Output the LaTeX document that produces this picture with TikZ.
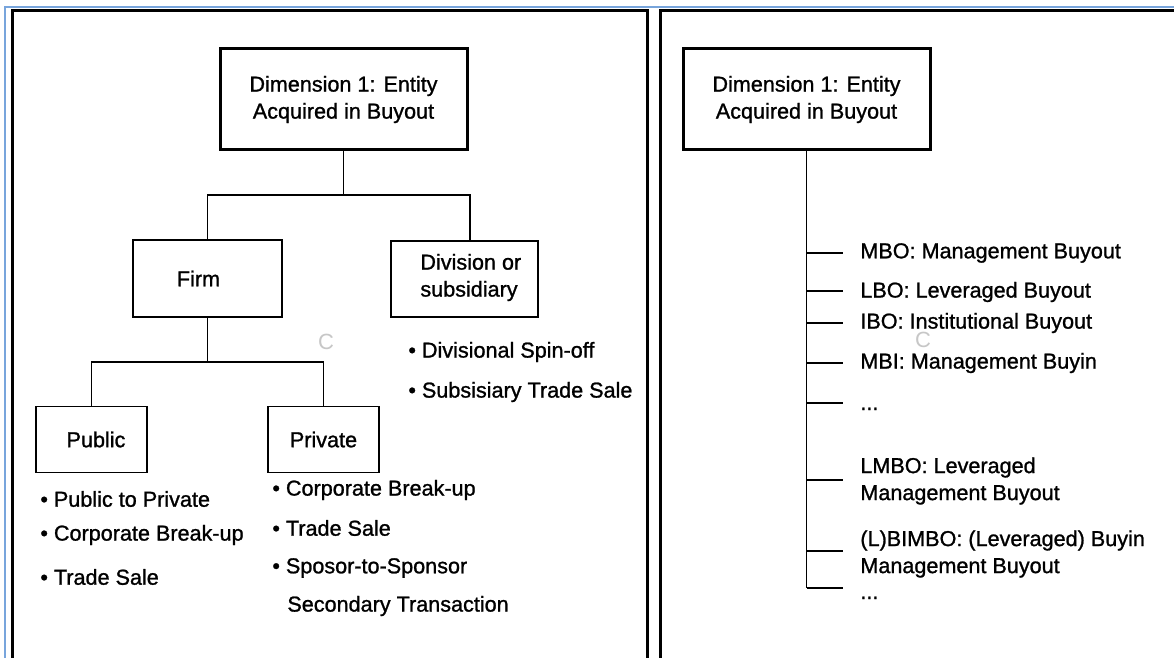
\documentclass[tikz,border=0pt]{standalone}
\usepackage{fontspec}
\setmainfont{Liberation Sans}
\definecolor{frameblue}{RGB}{120,165,220}
\begin{document}
\begin{tikzpicture}[x=0.5pt,y=-0.5pt,
  every node/.style={font=\fontsize{10.8}{13.5}\selectfont\addfontfeature{FakeBold=1.1}},
  headbox/.style={draw, line width=1.5pt, minimum width=123.5pt, minimum height=50.5pt, align=center, inner sep=0pt},
  catbox/.style={draw, line width=0.75pt, inner sep=0pt},
  conn/.style={line width=0.75pt},
  txt/.style={anchor=west, inner sep=0pt},
  wm/.style={text=black!22, font=\fontsize{11}{11}\selectfont}
]
\clip (0,0) rectangle (1174,658);
\fill[white] (0,0) rectangle (1174,658);
% frames
\draw[frameblue, line width=1pt] (5,700) -- (5,7) -- (1200,7);
\draw[line width=1.5pt] (12,700) -- (12,11) -- (647.5,11) -- (647.5,700);
\draw[line width=1.5pt] (660.5,700) -- (660.5,11) -- (1200,11);

% left tree
\node[headbox] (topL) at (343.5,99.5) {Dimension 1: Entity\\Acquired in Buyout};
\node[catbox, minimum width=74.5pt, minimum height=38.5pt] (firm) at (207.5,278.5) {Firm\hspace*{9pt}};
\node[catbox, minimum width=73.5pt, minimum height=38pt] (div) at (464.5,279) {};
\node[txt, align=left] (divtext) at (420,277.5) {Division or\\subsidiary};
\node[catbox, minimum width=55.5pt, minimum height=33pt] (pub) at (91.5,439.5) {\hspace*{4.5pt}Public};
\node[catbox, minimum width=55.5pt, minimum height=33pt] (priv) at (323.5,439.5) {Private};

\coordinate (j1) at (343.5,195);
\coordinate (divtop) at (470,240);
\draw[conn] (topL.south) -- (j1);
\draw[conn] (firm.north) |- (divtop |- j1) -- (divtop);
\coordinate (j2) at (207.5,362);
\draw[conn] (firm.south) -- (j2);
\draw[conn] (pub.north) |- (priv.north |- j2) -- (priv.north);

% bullets
\node[txt] (db1) at (408,352) {• Divisional Spin-off};
\node[txt] (db2) at (408,392) {• Subsisiary Trade Sale};
\node[txt] (pb1) at (40,499) {• Public to Private};
\node[txt] (pb2) at (40,535) {• Corporate Break-up};
\node[txt] (pb3) at (40,577) {• Trade Sale};
\node[txt] (vb1) at (272,490) {• Corporate Break-up};
\node[txt] (vb2) at (272,528) {• Trade Sale};
\node[txt] (vb3) at (272,568) {• Sposor-to-Sponsor};
\node[txt] (vb4) at (287,606) {Secondary Transaction};

% right tree
\node[headbox] (topR) at (806.5,99.5) {Dimension 1: Entity\\Acquired in Buyout};
\coordinate (tEnd) at (806.5,588);
\draw[conn] (topR.south) -- (tEnd);
\foreach \yy [count=\i] in {253,291,323,363,403,480,551,588} {
  \coordinate (tk\i) at (843,\yy);
  \draw[conn] (tk\i -| topR.south) -- (tk\i);
}
\node[txt] (l1) at (860,253) {MBO: Management Buyout};
\node[txt] (l2) at (860,292) {LBO: Leveraged Buyout};
\node[txt] (l3) at (860,323) {IBO: Institutional Buyout};
\node[txt] (l4) at (860,363) {MBI: Management Buyin};
\node[anchor=base west, inner sep=0pt] (l5) at (860,410) {...};
\node[txt, align=left] (l6) at (860,481) {LMBO: Leveraged\\Management Buyout};
\node[txt, align=left] (l7) at (860,554) {(L)BIMBO: (Leveraged) Buyin\\Management Buyout};
\node[anchor=base west, inner sep=0pt] (l8) at (860,599) {...};

% watermarks
\node[wm] (wm1) at (326,342) {C};
\node[wm] (wm2) at (923,340) {C};
\end{tikzpicture}
\end{document}
